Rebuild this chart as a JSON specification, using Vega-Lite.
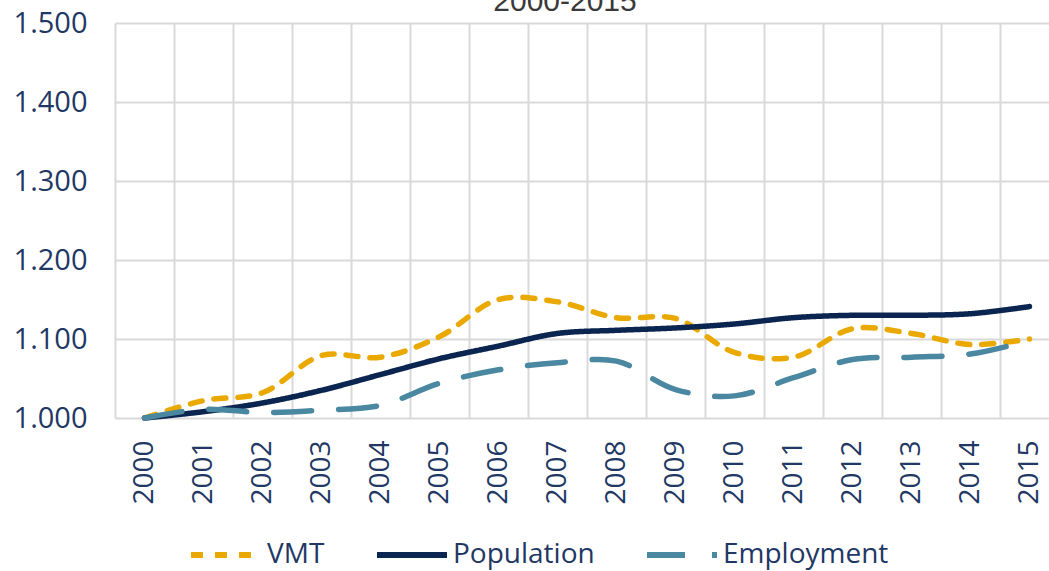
{
  "$schema": "https://vega.github.io/schema/vega-lite/v6.json",
  "width": 944,
  "height": 395,
  "autosize": {"type": "none"},
  "padding": {"left": 115, "top": 23, "right": -10, "bottom": 153},
  "background": "white",
  "title": {
    "text": "2000-2015",
    "font": "Liberation Sans",
    "fontSize": 30,
    "fontWeight": "normal",
    "color": "#3a3a3a",
    "anchor": "middle",
    "dx": -22,
    "baseline": "alphabetic",
    "offset": 0,
    "dy": 32
  },
  "data": {
    "values": [
      {"year": "2000", "series": "VMT", "value": 1.000},
      {"year": "2001", "series": "VMT", "value": 1.022},
      {"year": "2002", "series": "VMT", "value": 1.032},
      {"year": "2003", "series": "VMT", "value": 1.079},
      {"year": "2004", "series": "VMT", "value": 1.077},
      {"year": "2005", "series": "VMT", "value": 1.103},
      {"year": "2006", "series": "VMT", "value": 1.150},
      {"year": "2007", "series": "VMT", "value": 1.147},
      {"year": "2008", "series": "VMT", "value": 1.127},
      {"year": "2009", "series": "VMT", "value": 1.126},
      {"year": "2010", "series": "VMT", "value": 1.083},
      {"year": "2011", "series": "VMT", "value": 1.077},
      {"year": "2012", "series": "VMT", "value": 1.113},
      {"year": "2013", "series": "VMT", "value": 1.107},
      {"year": "2014", "series": "VMT", "value": 1.093},
      {"year": "2015", "series": "VMT", "value": 1.100},
      {"year": "2000", "series": "Population", "value": 1.000},
      {"year": "2001", "series": "Population", "value": 1.008},
      {"year": "2002", "series": "Population", "value": 1.019},
      {"year": "2003", "series": "Population", "value": 1.035},
      {"year": "2004", "series": "Population", "value": 1.055},
      {"year": "2005", "series": "Population", "value": 1.075},
      {"year": "2006", "series": "Population", "value": 1.091},
      {"year": "2007", "series": "Population", "value": 1.107},
      {"year": "2008", "series": "Population", "value": 1.111},
      {"year": "2009", "series": "Population", "value": 1.114},
      {"year": "2010", "series": "Population", "value": 1.119},
      {"year": "2011", "series": "Population", "value": 1.127},
      {"year": "2012", "series": "Population", "value": 1.130},
      {"year": "2013", "series": "Population", "value": 1.130},
      {"year": "2014", "series": "Population", "value": 1.132},
      {"year": "2015", "series": "Population", "value": 1.141},
      {"year": "2000", "series": "Employment", "value": 1.000},
      {"year": "2001", "series": "Employment", "value": 1.011},
      {"year": "2002", "series": "Employment", "value": 1.007},
      {"year": "2003", "series": "Employment", "value": 1.010},
      {"year": "2004", "series": "Employment", "value": 1.016},
      {"year": "2005", "series": "Employment", "value": 1.044},
      {"year": "2006", "series": "Employment", "value": 1.061},
      {"year": "2007", "series": "Employment", "value": 1.070},
      {"year": "2008", "series": "Employment", "value": 1.072},
      {"year": "2009", "series": "Employment", "value": 1.036},
      {"year": "2010", "series": "Employment", "value": 1.028},
      {"year": "2011", "series": "Employment", "value": 1.051},
      {"year": "2012", "series": "Employment", "value": 1.074},
      {"year": "2013", "series": "Employment", "value": 1.077},
      {"year": "2014", "series": "Employment", "value": 1.081},
      {"year": "2015", "series": "Employment", "value": 1.098}
    ]
  },
  "mark": {"type": "line", "interpolate": "catmull-rom", "strokeWidth": 5.5, "strokeCap": "round"},
  "encoding": {
    "x": {
      "field": "year",
      "type": "ordinal",
      "bandPosition": 0.5,
      "scale": {"type": "band", "paddingInner": 0, "paddingOuter": 0},
      "axis": {
        "title": null,
        "tickBand": "extent",
        "ticks": false,
        "tickSize": 0,
        "domain": false,
        "grid": true,
        "gridColor": "#d9d9d9",
        "gridWidth": 2,
        "labelAngle": -90,
        "labelAlign": "right",
        "labelBaseline": "middle",
        "labelPadding": 22,
        "labelFont": "Open Sans",
        "labelFontSize": 28,
        "labelColor": "#1f3864"
      }
    },
    "y": {
      "field": "value",
      "type": "quantitative",
      "scale": {"domain": [1, 1.5], "zero": false, "nice": false},
      "axis": {
        "title": null,
        "values": [1, 1.1, 1.2, 1.3, 1.4, 1.5],
        "format": ".3f",
        "ticks": false,
        "tickSize": 0,
        "domain": false,
        "grid": true,
        "gridColor": "#d9d9d9",
        "gridWidth": 2,
        "labelPadding": 28,
        "labelFont": "Open Sans",
        "labelFontSize": 29,
        "labelColor": "#1f3864"
      }
    },
    "color": {
      "field": "series",
      "type": "nominal",
      "scale": {"domain": ["VMT", "Population", "Employment"], "range": ["#eaa900", "#0b2551", "#4a87a1"]},
      "legend": {
        "title": null,
        "orient": "none",
        "legendX": 73,
        "legendY": 494,
        "direction": "horizontal",
        "symbolType": "stroke",
        "symbolSize": 4900,
        "symbolStrokeWidth": 6,
        "labelOffset": 3,
        "labelLimit": 400,
        "columnPadding": 40,
        "labelFont": "Open Sans",
        "labelFontSize": 28,
        "labelColor": "#1f3864"
      }
    },
    "strokeDash": {
      "field": "series",
      "type": "nominal",
      "scale": {"domain": ["VMT", "Population", "Employment"], "range": [[12, 12], [1, 0], [38, 27]]},
      "legend": {
        "title": null,
        "orient": "none",
        "legendX": 73,
        "legendY": 494,
        "direction": "horizontal",
        "symbolType": "stroke",
        "symbolSize": 4900,
        "symbolStrokeWidth": 6,
        "labelOffset": 3,
        "labelLimit": 400,
        "columnPadding": 40,
        "labelFont": "Open Sans",
        "labelFontSize": 28,
        "labelColor": "#1f3864"
      }
    }
  },
  "config": {"view": {"stroke": null}}
}
